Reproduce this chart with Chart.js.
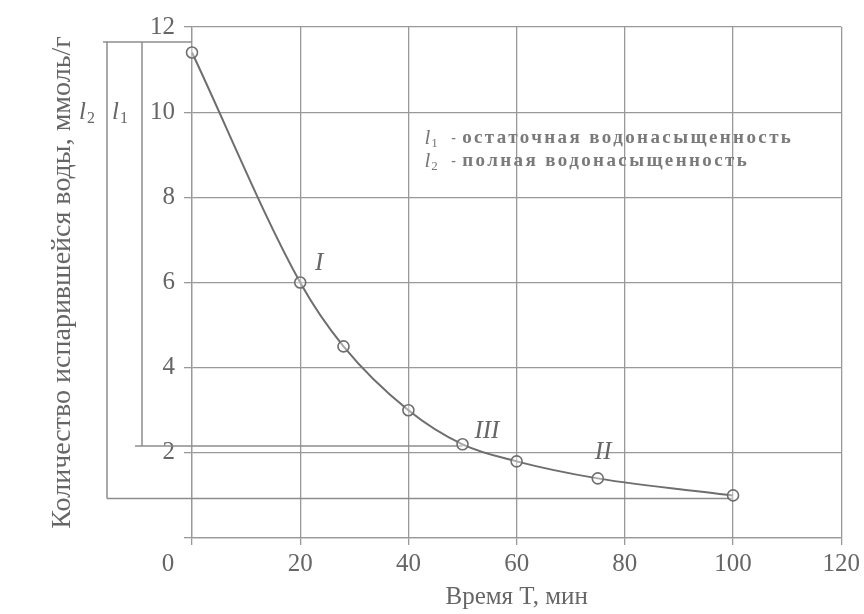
<!DOCTYPE html>
<html><head><meta charset="utf-8">
<script src="https://cdn.jsdelivr.net/npm/chart.js@4.4.1/dist/chart.umd.min.js"></script>
<style>html,body{margin:0;padding:0;background:#fff;}#wrap{width:864px;height:614px;}</style>
</head><body><div id="wrap"><canvas id="c" width="864" height="614"></canvas></div>
<script>
// ---- data ----
const timeMin = [0, 20, 28, 40, 50, 60, 75, 100];
const evaporated = [11.4, 6.0, 4.5, 3.0, 2.2, 1.8, 1.4, 1.0];
const xTickValues = [0, 20, 40, 60, 80, 100, 120];
const yTickValues = [0, 2, 4, 6, 8, 10, 12];
const stageLabels = ['I', 'III', 'II'];
const stageLabelT = [23.5, 54.5, 76];
const stageLabelY = [6.45, 2.5, 2.0];
const bracketSubs = ['2', '1'];          // l2 (full), l1 (residual)
const bracketTopLevel = 11.65;
const bracketBottomLevels = [0.93, 2.16];
const bracketEndT = [100, 50];
const legendSubs = ['1', '2'];
const legendTexts = ['остаточная водонасыщенность', 'полная водонасыщенность'];
const xTitle = 'Время T, мин';
const yTitle = 'Количество испарившейся воды, ммоль/г';

const FONT = "'Liberation Serif', 'DejaVu Serif', serif";
const GRID = '#999999';
const INK = '#666666';
const CURVE = '#6e6e6e';

function drawSubText(ctx, base, sub, x, y, size, color, italic) {
  ctx.fillStyle = color;
  ctx.textBaseline = 'middle';
  ctx.textAlign = 'left';
  ctx.font = (italic ? 'italic ' : '') + size + 'px ' + FONT;
  const w = ctx.measureText(base).width;
  ctx.font = Math.round(size * 0.62) + 'px ' + FONT;
  const ws = ctx.measureText(sub).width;
  const x0 = x - (w + ws + 1) / 2;
  ctx.font = (italic ? 'italic ' : '') + size + 'px ' + FONT;
  ctx.fillText(base, x0, y);
  ctx.font = Math.round(size * 0.62) + 'px ' + FONT;
  ctx.fillText(sub, x0 + w + 1, y + size * 0.25);
}

const annot = {
  id: 'annot',
  beforeDatasetsDraw(chart) {
    const { ctx, chartArea: a, scales: { x, y } } = chart;
    ctx.save();
    ctx.strokeStyle = '#8c8c8c';
    ctx.lineWidth = 1.5;
    const seg = (x1, y1, x2, y2) => { ctx.beginPath(); ctx.moveTo(x1, y1); ctx.lineTo(x2, y2); ctx.stroke(); };
    const yTop = y.getPixelForValue(bracketTopLevel);
    const colX = [a.left - 85, a.left - 50];
    const startX = [a.left - 85, a.left - 57];
    seg(a.left - 89, yTop, a.left, yTop);
    bracketBottomLevels.forEach((lv, i) => {
      const yb = y.getPixelForValue(lv);
      seg(colX[i], yTop, colX[i], yb);
      seg(startX[i], yb, x.getPixelForValue(bracketEndT[i]), yb);
    });
    ctx.restore();
  },
  afterDatasetsDraw(chart) {
    const { ctx, chartArea: a, scales: { x, y } } = chart;
    ctx.save();
    // bracket labels l2, l1
    const labY = y.getPixelForValue(10);
    drawSubText(ctx, 'l', bracketSubs[0], a.left - 105, labY, 25, INK, true);
    drawSubText(ctx, 'l', bracketSubs[1], a.left - 72, labY, 25, INK, true);
    // stage labels on the curve
    ctx.fillStyle = INK;
    ctx.font = 'italic 25px ' + FONT;
    ctx.textAlign = 'center';
    ctx.textBaseline = 'middle';
    stageLabels.forEach((s, i) => ctx.fillText(s, x.getPixelForValue(stageLabelT[i]), y.getPixelForValue(stageLabelY[i])));
    // legend text
    const lx = x.getPixelForValue(44.2);
    const lys = [y.getPixelForValue(9.38), y.getPixelForValue(8.84)];
    legendTexts.forEach((t, i) => {
      drawSubText(ctx, 'l', legendSubs[i], lx, lys[i], 21, '#777777', true);
      ctx.fillStyle = '#7a7a7a';
      ctx.textAlign = 'left';
      ctx.textBaseline = 'middle';
      ctx.font = 'bold 14px ' + FONT;
      ctx.fillText('-', lx + 20, lys[i]);
      ctx.font = 'bold 19px ' + FONT;
      ctx.letterSpacing = '2.4px';
      ctx.fillText(t, lx + 31, lys[i]);
      ctx.letterSpacing = '0px';
    });
    // shared origin label
    ctx.fillStyle = INK;
    ctx.font = '25px ' + FONT;
    ctx.textAlign = 'center';
    ctx.textBaseline = 'middle';
    ctx.fillText('0', a.left - 24, a.bottom + 26);
    ctx.restore();
  }
};

new Chart(document.getElementById('c'), {
  type: 'line',
  data: {
    datasets: [{
      data: timeMin.map((t, i) => ({ x: t, y: evaporated[i] })),
      borderColor: CURVE,
      borderWidth: 2,
      pointRadius: 5.5,
      pointBorderWidth: 1.6,
      pointBackgroundColor: 'rgba(255,255,255,0.4)',
      pointBorderColor: CURVE,
      cubicInterpolationMode: 'monotone',
      fill: false,
      clip: false
    }]
  },
  options: {
    responsive: false,
    animation: false,
    devicePixelRatio: 1,
    layout: { padding: { left: 0, right: 22, top: 27, bottom: 0 } },
    plugins: { legend: { display: false }, tooltip: { enabled: false } },
    scales: {
      x: {
        type: 'linear', min: 0, max: 120,
        afterBuildTicks: s => { s.ticks = xTickValues.map(v => ({ value: v })); },
        ticks: { callback: v => (v === 0 ? '' : String(v)), font: { family: FONT, size: 25 }, color: INK, padding: 4, maxRotation: 0, autoSkip: false },
        grid: { color: GRID, lineWidth: 1.3, tickLength: 7, tickColor: GRID },
        border: { color: GRID, width: 1.3 },
        title: { display: true, text: xTitle, font: { family: FONT, size: 25 }, color: INK, padding: { top: 0, bottom: 2 } },
        afterFit: s => { s.height = 76; }
      },
      y: {
        type: 'linear', min: 0, max: 12,
        afterBuildTicks: s => { s.ticks = yTickValues.map(v => ({ value: v })); },
        ticks: { callback: v => (v === 0 ? '' : String(v)), font: { family: FONT, size: 25 }, color: INK, padding: 9 },
        grid: { color: GRID, lineWidth: 1.3, tickLength: 8, tickColor: GRID },
        border: { color: GRID, width: 1.3 },
        title: { display: true, text: yTitle, font: { family: FONT, size: 28 }, color: INK, padding: { top: 46, bottom: 0 } },
        afterFit: s => { s.width = 192; }
      }
    }
  },
  plugins: [annot]
});
</script>
</body></html>
